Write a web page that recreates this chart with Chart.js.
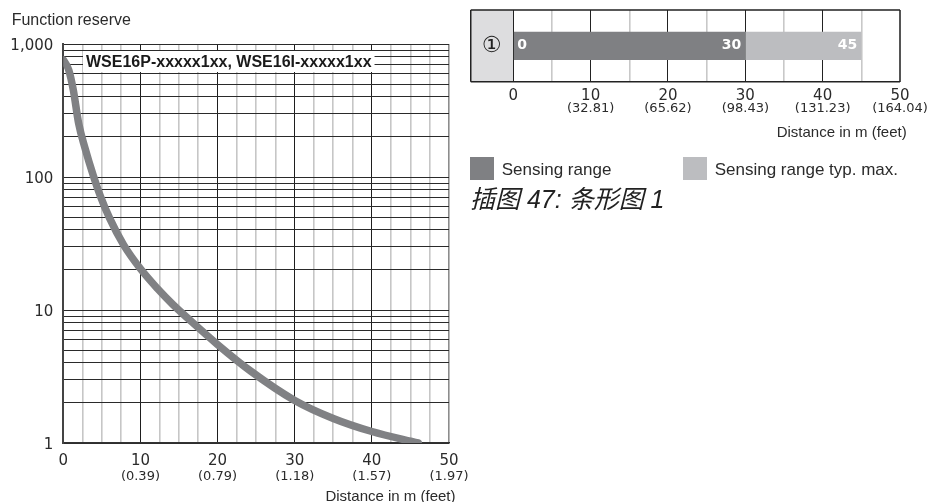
<!DOCTYPE html>
<html><head><meta charset="utf-8">
<script src="https://cdn.jsdelivr.net/npm/chart.js@4.4.1/dist/chart.umd.min.js"></script>
<style>
html,body{margin:0;padding:0;background:#fff;width:928px;height:502px;overflow:hidden}
#c1{position:absolute;left:0;top:0}
#c2{position:absolute;left:470px;top:0}
#cap{position:absolute;left:470px;top:186px;font-family:"Liberation Sans","Noto Sans CJK SC";font-style:italic;font-size:25px;color:#222;line-height:26px;white-space:nowrap}
</style></head><body>
<canvas id="c1" width="470" height="502"></canvas>
<canvas id="c2" width="458" height="240"></canvas>
<div id="cap">插图 47: 条形图 1</div>
<script>
// ---- left chart data ----
const curveDistance = [0, 0.7, 1.3, 2.0, 2.8, 3.9, 4.8, 6.0, 7.8, 10, 12.2, 14.2, 16.4, 20, 24.3, 30, 35, 40, 46];
const curveReserve  = [760, 640, 450, 251, 166, 102, 72, 49, 31, 20.4, 14.5, 11, 8.4, 5.5, 3.47, 2.09, 1.53, 1.22, 1.0];
const xTickValues = [0, 10, 20, 30, 40, 50];
const xTickFeetLeft = ['', '(0.39)', '(0.79)', '(1.18)', '(1.57)', '(1.97)'];
const yTickValues = [1, 10, 100, 1000];
const yTickLabels = ['1', '10', '100', '1,000'];
const curveTitle = 'WSE16P-xxxxx1xx, WSE16I-xxxxx1xx';
const yAxisTitle = 'Function reserve';
const xAxisTitle = 'Distance in m (feet)';

// ---- right chart data ----
const barCategories = ['\u2460'];
const sensingRange = [[0, 30]];
const sensingRangeMax = [[30, 45]];
const barSeriesNames = ['Sensing range', 'Sensing range typ. max.'];
const barTickValues = [0, 10, 20, 30, 40, 50];
const barTickFeet = ['', '(32.81)', '(65.62)', '(98.43)', '(131.23)', '(164.04)'];

const TXT = '#2b2b2b';
const DARK = '#7f8083', LIGHT = '#bcbdc0';

// grid value helpers
const leftXGrid = []; for (let v = 0; v <= 50; v += 2.5) leftXGrid.push(v);
const leftYGrid = []; [1, 10, 100].forEach(d => { for (let m = 1; m <= 9; m++) leftYGrid.push(m * d); }); leftYGrid.push(1000);
const rightXGrid = []; for (let v = 0; v <= 50; v += 5) rightXGrid.push(v);

const leftLabels = {
  id: 'leftLabels',
  afterDraw(chart) {
    const { ctx, chartArea: a, scales: { x, y } } = chart;
    ctx.save();
    ctx.fillStyle = TXT;
    ctx.textBaseline = 'alphabetic';
    ctx.font = '15px "DejaVu Sans"';
    ctx.textAlign = 'right';
    yTickValues.forEach((v, i) => ctx.fillText(yTickLabels[i], 53.3, y.getPixelForValue(v) + 5.5));
    ctx.textAlign = 'center';
    xTickValues.forEach((v, i) => {
      const px = x.getPixelForValue(v);
      ctx.font = '15px "DejaVu Sans"';
      ctx.fillText(String(v), px, a.bottom + 22);
      if (xTickFeetLeft[i]) { ctx.font = '13px "DejaVu Sans"'; ctx.fillText(xTickFeetLeft[i], px, a.bottom + 37); }
    });
    ctx.font = '15px "Liberation Sans"';
    ctx.textAlign = 'right';
    ctx.fillText(xAxisTitle, a.right + 6.5, a.bottom + 57.5);
    ctx.textAlign = 'left';
    ctx.font = '16px "Liberation Sans"';
    ctx.fillText(yAxisTitle, 11.7, 25);
    ctx.font = 'bold 16px "Liberation Sans"';
    const w = ctx.measureText(curveTitle).width;
    ctx.fillStyle = '#fff';
    ctx.fillRect(a.left + 19.7, a.top + 7, w + 6, 21);
    ctx.fillStyle = '#1a1a1a';
    ctx.fillText(curveTitle, a.left + 22.7, a.top + 22.7);
    ctx.restore();
  }
};

new Chart(document.getElementById('c1'), {
  type: 'line',
  data: { datasets: [{
    data: curveDistance.map((d, i) => ({ x: d, y: curveReserve[i] })),
    borderColor: '#808184', borderWidth: 7.5, pointRadius: 0,
    cubicInterpolationMode: 'monotone', borderCapStyle: 'round', borderJoinStyle: 'round', fill: false
  }] },
  options: {
    responsive: false, animation: false, devicePixelRatio: 1,
    layout: { padding: { left: 63.3, top: 44, right: 21, bottom: 59 } },
    plugins: { legend: { display: false }, tooltip: { enabled: false } },
    scales: {
      x: {
        type: 'linear', min: 0, max: 50,
        afterBuildTicks: s => { s.ticks = leftXGrid.map(v => ({ value: v })); },
        ticks: { display: false },
        grid: { drawTicks: false,
          color: c => c.tick.value === 50 ? '#8c8c8c' : (c.tick.value % 10 === 0 ? '#1e1e1e' : '#c6c6c6'),
          lineWidth: c => c.tick.value % 10 === 0 && c.tick.value !== 50 ? 1 : 1.6 },
        border: { display: true, color: '#333', width: 1.5 }
      },
      y: {
        type: 'logarithmic', min: 1, max: 1000,
        afterBuildTicks: s => { s.ticks = leftYGrid.map(v => ({ value: v })); },
        ticks: { display: false },
        grid: { drawTicks: false, color: '#2a2a2a', lineWidth: 1 },
        border: { display: true, color: '#444', width: 2 }
      }
    }
  },
  plugins: [leftLabels]
});

const rightDecor = {
  id: 'rightDecor',
  beforeDraw(chart) {
    const { ctx, chartArea: a } = chart;
    ctx.save();
    ctx.fillStyle = '#dddddf';
    ctx.fillRect(0, a.top, a.left, a.bottom - a.top);
    ctx.restore();
  },
  afterDatasetsDraw(chart) {
    const { ctx, chartArea: a, scales: { x, y } } = chart;
    ctx.save();
    // frame
    ctx.strokeStyle = '#222'; ctx.lineWidth = 1.5;
    ctx.beginPath();
    ctx.moveTo(0.75, a.top); ctx.lineTo(a.right, a.top);
    ctx.moveTo(0.75, a.bottom); ctx.lineTo(a.right, a.bottom);
    ctx.moveTo(0.75, a.top); ctx.lineTo(0.75, a.bottom);
    ctx.stroke();
    // category label
    ctx.fillStyle = '#222';
    ctx.font = '22px "DejaVu Sans"';
    ctx.textAlign = 'center'; ctx.textBaseline = 'middle';
    ctx.fillText(barCategories[0], a.left / 2, y.getPixelForValue(0));
    // bar value labels
    const cy = y.getPixelForValue(0);
    ctx.fillStyle = '#fff';
    ctx.font = 'bold 14px "DejaVu Sans"';
    ctx.textAlign = 'left';
    ctx.fillText(String(sensingRange[0][0]), x.getPixelForValue(sensingRange[0][0]) + 4, cy);
    ctx.textAlign = 'right';
    ctx.fillText(String(sensingRange[0][1]), x.getPixelForValue(sensingRange[0][1]) - 4, cy);
    ctx.fillText(String(sensingRangeMax[0][1]), x.getPixelForValue(sensingRangeMax[0][1]) - 4, cy);
    // axis labels
    ctx.fillStyle = TXT;
    ctx.textBaseline = 'alphabetic';
    ctx.textAlign = 'center';
    barTickValues.forEach((v, i) => {
      const px = x.getPixelForValue(v);
      ctx.font = '15px "DejaVu Sans"';
      ctx.fillText(String(v), px, a.bottom + 18.3);
      if (barTickFeet[i]) { ctx.font = '13px "DejaVu Sans"'; ctx.fillText(barTickFeet[i], px, a.bottom + 30); }
    });
    ctx.font = '15px "Liberation Sans"';
    ctx.textAlign = 'right';
    ctx.fillText(xAxisTitle, a.right + 6.7, a.bottom + 54.8);
    // legend
    const ds = chart.data.datasets;
    const lx = [0, 213];
    ds.forEach((d, i) => {
      ctx.fillStyle = d.backgroundColor;
      ctx.fillRect(lx[i], 157, 24, 23);
      ctx.fillStyle = TXT;
      ctx.font = '17px "Liberation Sans"';
      ctx.textAlign = 'left';
      ctx.fillText(d.label, lx[i] + 31.7, 175);
    });
    ctx.restore();
  }
};

new Chart(document.getElementById('c2'), {
  type: 'bar',
  data: { labels: barCategories, datasets: [
    { label: barSeriesNames[0], data: sensingRange, backgroundColor: DARK, grouped: false, barPercentage: 0.395, categoryPercentage: 1, borderWidth: 0 },
    { label: barSeriesNames[1], data: sensingRangeMax, backgroundColor: LIGHT, grouped: false, barPercentage: 0.395, categoryPercentage: 1, borderWidth: 0 }
  ] },
  options: {
    indexAxis: 'y', responsive: false, animation: false, devicePixelRatio: 1,
    layout: { padding: { left: 43.3, right: 28, top: 10, bottom: 158.3 } },
    plugins: { legend: { display: false }, tooltip: { enabled: false } },
    scales: {
      x: {
        type: 'linear', min: 0, max: 50,
        afterBuildTicks: s => { s.ticks = rightXGrid.map(v => ({ value: v })); },
        ticks: { display: false },
        grid: { drawTicks: false,
          color: c => c.tick.value === 50 ? '#555' : (c.tick.value % 10 === 0 ? '#222' : '#c8c8c8'),
          lineWidth: c => c.tick.value === 50 ? 2 : (c.tick.value % 10 === 0 ? 1 : 1.6) },
        border: { display: false }
      },
      y: { type: 'category', ticks: { display: false }, grid: { display: false, drawTicks: false }, border: { display: false } }
    }
  },
  plugins: [rightDecor]
});
</script>
</body></html>
